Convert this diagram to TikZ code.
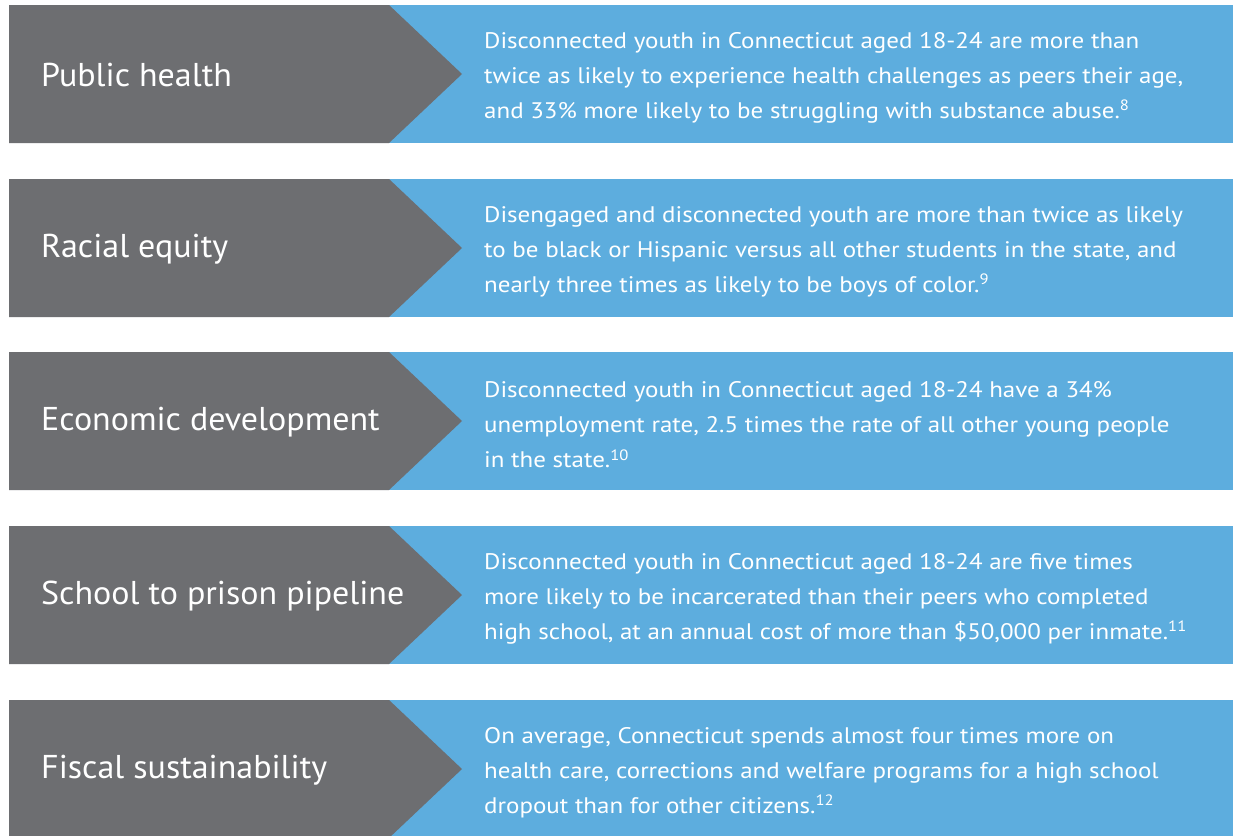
\documentclass[tikz,border=0pt]{standalone}
\usepackage{fontspec}
\setmainfont{PT Sans}
\newfontfamily\lblfont[FakeStretch=1.03]{PT Sans}
\newfontfamily\descfont[FakeStretch=1.11]{PT Sans}
\definecolor{rowgray}{HTML}{6D6E71}
\definecolor{rowblue}{HTML}{5DADDE}
\newcommand\fnref[1]{\raisebox{0.7ex}{\fontsize{15}{15}\selectfont #1}}
\tikzset{
  graypart/.style={fill=rowgray,draw=none},
  bluepart/.style={fill=rowblue,draw=none},
  lbl/.style={anchor=west,text=white,font=\lblfont\fontsize{33}{38}\selectfont,inner sep=0pt},
  desc/.style={anchor=west,text=white,align=left,font=\descfont\fontsize{22.5}{35}\selectfont,inner sep=0pt},
}
\newcommand\inforow[4]{%
  \fill[bluepart] (389,#2) rectangle (1233,#2+138);
  \fill[graypart] (9,#2) -- (389,#2) -- (462,#2+69) -- (389,#2+138) -- (9,#2+138) -- cycle;
  \node[lbl] (label#1) at (41,#2+70) {#3};
  \node[desc] (text#1) at (484,#2+73) {#4};
}
\begin{document}
\begin{tikzpicture}[x=1pt,y=-1pt]
\useasboundingbox[fill=white] (0,0) rectangle (1233,835);
\begin{scope}
\clip (0,0) rectangle (1233,835);
\inforow{1}{5}{Public health}{Disconnected youth in Connecticut aged 18-24 are more than\\twice as likely to experience health challenges as peers their age,\\and 33\% more likely to be struggling with substance abuse.\fnref{8}}
\inforow{2}{179}{Racial equity}{Disengaged and disconnected youth are more than twice as likely\\to be black or Hispanic versus all other students in the state, and\\nearly three times as likely to be boys of color.\fnref{9}}
\inforow{3}{352}{Economic development}{Disconnected youth in Connecticut aged 18-24 have a 34\%\\unemployment rate, 2.5 times the rate of all other young people\\in the state.\fnref{10}}
\inforow{4}{526}{School to prison pipeline}{Disconnected youth in Connecticut aged 18-24 are five times\\more likely to be incarcerated than their peers who completed\\high school, at an annual cost of more than \$50,000 per inmate.\fnref{11}}
\inforow{5}{700}{Fiscal sustainability}{On average, Connecticut spends almost four times more on\\health care, corrections and welfare programs for a high school\\dropout than for other citizens.\fnref{12}}
\end{scope}
\end{tikzpicture}
\end{document}
